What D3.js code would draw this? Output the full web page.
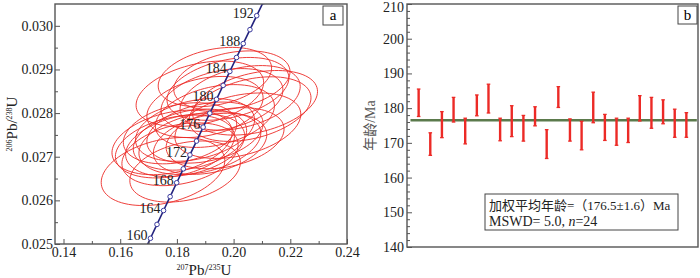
<!DOCTYPE html>
<html>
<head>
<meta charset="utf-8">
<script src="https://cdn.jsdelivr.net/npm/d3@7"></script>
<style>
body { margin: 0; background: #fff; }
svg { display: block; font-family: "Liberation Serif", "Times New Roman", "Noto Sans CJK SC", serif; }
.domain { display: none; }
.tick line { stroke: #555; }
.tick text { font-size: 14px; fill: #222; font-family: "Liberation Serif", serif; }
</style>
</head>
<body>
<svg width="700" height="278"></svg>
<script>
// concordia reference points (t in Ma)
const concAges = [158,160,162,164,166,168,170,172,174,176,178,180,182,184,186,188,190,192,194];
const concX = [0.16837,0.17067,0.17298,0.17529,0.17761,0.17993,0.18226,0.18459,0.18692,0.18926,0.19161,0.19396,0.19631,0.19867,0.20103,0.20340,0.20577,0.20815,0.21053];
const concY = [0.024813,0.025131,0.025449,0.025767,0.026085,0.026404,0.026722,0.027041,0.027359,0.027678,0.027997,0.028316,0.028635,0.028954,0.029274,0.029593,0.029912,0.030232,0.030552];
const concLabels = [160,164,168,172,176,180,184,188,192];

// ellipses: centre, 2s errors, error correlation
const ellX   = [0.1980,0.1751,0.1899,0.2076,0.1829,0.1881,0.1994,0.1783,0.2015,0.1846,0.1934,0.1829,0.1934,0.1881,0.1811,0.2023,0.1970,0.1793,0.1917,0.1959,0.2058,0.1899,0.1864,0.1811];
const ellY   = [0.028555,0.026661,0.027553,0.028236,0.027266,0.028443,0.028745,0.027328,0.027711,0.027392,0.027933,0.026661,0.028826,0.027312,0.027057,0.028349,0.027424,0.027234,0.027296,0.028300,0.028092,0.028140,0.027615,0.027537];
const ellSX  = [0.0215,0.0218,0.0205,0.0220,0.0210,0.0225,0.0205,0.0212,0.0222,0.0200,0.0210,0.0195,0.0200,0.0215,0.0205,0.0212,0.0208,0.0210,0.0200,0.0215,0.0215,0.0205,0.0210,0.0200];
const ellSY  = [0.00072,0.00078,0.00070,0.00074,0.00072,0.00075,0.00068,0.00074,0.00075,0.00070,0.00072,0.00070,0.00068,0.00072,0.00072,0.00074,0.00070,0.00072,0.00070,0.00072,0.00074,0.00070,0.00072,0.00070];
const ellRho = [0.35,0.32,0.30,0.35,0.30,0.35,0.30,0.32,0.35,0.30,0.32,0.30,0.30,0.32,0.30,0.35,0.30,0.32,0.30,0.32,0.35,0.30,0.32,0.30];

// weighted mean panel
const ageHigh = [185.5,172.9,179.0,183.1,177.1,183.8,186.9,177.1,180.7,177.9,180.4,173.8,186.2,176.9,176.2,184.6,178.2,177.1,177.1,183.6,183.1,182.4,179.7,178.7];
const ageLow  = [177.6,166.4,171.5,176.0,169.7,177.8,178.6,170.6,171.8,170.5,174.9,165.5,180.2,170.5,168.0,175.8,170.7,169.3,170.1,176.3,174.2,175.5,171.6,171.6];
const meanAge = 176.5;

const svg = d3.select('svg');
const red = '#ec2a26';

// ---------- panel a ----------
const ax = {left: 55, right: 347, top: 4, bottom: 244};
const xScale = d3.scaleLinear().domain([0.137, 0.24]).range([ax.left, ax.right]);
const yScale = d3.scaleLinear().domain([0.025, 0.0305]).range([ax.bottom, ax.top]);

svg.append('clipPath').attr('id', 'clipA')
  .append('rect').attr('x', ax.left).attr('y', ax.top)
  .attr('width', ax.right - ax.left).attr('height', ax.bottom - ax.top);

const gA = svg.append('g');
const plotA = gA.append('g').attr('clip-path', 'url(#clipA)');

// ellipses
const ellipsePath = i => {
  const pts = d3.range(0, 361, 4).map(a => {
    const t = a * Math.PI / 180;
    const dx = ellSX[i] * Math.cos(t);
    const dy = ellSY[i] * (ellRho[i] * Math.cos(t) + Math.sqrt(1 - ellRho[i] * ellRho[i]) * Math.sin(t));
    return [xScale(ellX[i] + dx), yScale(ellY[i] + dy)];
  });
  return d3.line()(pts) + 'Z';
};
plotA.selectAll('path.ell').data(d3.range(ellX.length))
  .enter().append('path')
    .attr('class', 'ell')
    .attr('d', ellipsePath)
    .attr('fill', 'none')
    .attr('stroke', red)
    .attr('stroke-width', 0.9);

// concordia
const conc = concAges.map((t, i) => ({t, x: concX[i], y: concY[i]}));
plotA.append('path')
  .attr('d', d3.line().x(d => xScale(d.x)).y(d => yScale(d.y))(conc))
  .attr('fill', 'none').attr('stroke', '#23237e').attr('stroke-width', 1.6);
plotA.selectAll('circle').data(conc)
  .enter().append('circle')
    .attr('cx', d => xScale(d.x)).attr('cy', d => yScale(d.y))
    .attr('r', 2.3).attr('fill', '#fff').attr('stroke', '#3b3b9e').attr('stroke-width', 1);
gA.selectAll('text.clab').data(conc.filter(d => concLabels.includes(d.t)))
  .enter().append('text')
    .attr('class', 'clab')
    .attr('x', d => xScale(d.x) - 3)
    .attr('y', d => yScale(d.y) + 2)
    .attr('text-anchor', 'end')
    .attr('font-size', 14).attr('fill', '#222')
    .text(d => d.t);

// axes (inward ticks)
const xTicks = [0.14, 0.16, 0.18, 0.20, 0.22, 0.24];
const xMinor = [0.15, 0.17, 0.19, 0.21, 0.23];
const yTicks = [0.025, 0.026, 0.027, 0.028, 0.029, 0.030];
const yMinor = [0.0255, 0.0265, 0.0275, 0.0285, 0.0295];

gA.append('g').attr('transform', `translate(0,${ax.bottom})`)
  .call(d3.axisBottom(xScale).tickValues(xTicks).tickFormat(d3.format('.2f')).tickSizeInner(-5).tickSizeOuter(0).tickPadding(3));
gA.append('g').attr('transform', `translate(0,${ax.bottom})`)
  .call(d3.axisBottom(xScale).tickValues(xMinor).tickFormat('').tickSizeInner(-3).tickSizeOuter(0));
gA.append('g').attr('transform', `translate(${ax.left},0)`)
  .call(d3.axisLeft(yScale).tickValues(yTicks).tickFormat(d3.format('.3f')).tickSizeInner(-5).tickSizeOuter(0).tickPadding(2));
gA.append('g').attr('transform', `translate(${ax.left},0)`)
  .call(d3.axisLeft(yScale).tickValues(yMinor).tickFormat('').tickSizeInner(-3).tickSizeOuter(0));

gA.append('rect')
  .attr('x', ax.left).attr('y', ax.top)
  .attr('width', ax.right - ax.left).attr('height', ax.bottom - ax.top)
  .attr('fill', 'none').attr('stroke', '#555').attr('stroke-width', 1.4);

// panel letter
gA.append('rect').attr('x', 323).attr('y', 6).attr('width', 20).attr('height', 19)
  .attr('fill', '#fff').attr('stroke', '#444').attr('stroke-width', 1);
gA.append('text').attr('x', 333).attr('y', 20).attr('text-anchor', 'middle')
  .attr('font-size', 15).text('a');

// axis titles
const yt = gA.append('text')
  .attr('transform', `translate(17,${(ax.top + ax.bottom) / 2}) rotate(-90)`)
  .attr('text-anchor', 'middle').attr('font-size', 15).attr('fill', '#222');
yt.append('tspan').attr('font-size', 8).attr('dy', -5).text('206');
yt.append('tspan').attr('dy', 5).text('Pb/');
yt.append('tspan').attr('font-size', 8).attr('dy', -5).text('238');
yt.append('tspan').attr('dy', 5).text('U');

const xt = gA.append('text')
  .attr('x', 204).attr('y', 275)
  .attr('text-anchor', 'middle').attr('font-size', 15).attr('fill', '#222');
xt.append('tspan').attr('font-size', 8).attr('dy', -5).text('207');
xt.append('tspan').attr('dy', 5).text('Pb/');
xt.append('tspan').attr('font-size', 8).attr('dy', -5).text('235');
xt.append('tspan').attr('dy', 5).text('U');

// ---------- panel b ----------
const bx = {left: 407, right: 698, top: 4, bottom: 247};
const iScale = d3.scaleLinear().domain([0, 25]).range([bx.left, bx.right]);
const aScale = d3.scaleLinear().domain([140, 210]).range([bx.bottom, bx.top]);
const gB = svg.append('g');

gB.append('g').attr('transform', `translate(${bx.left},0)`)
  .call(d3.axisLeft(aScale).tickValues(d3.range(140, 211, 10)).tickSizeInner(-5).tickSizeOuter(0).tickPadding(3))
  .selectAll('.tick text').filter(d => d === 210).attr('dy', '0.55em');
gB.append('g').attr('transform', `translate(${bx.left},0)`)
  .call(d3.axisLeft(aScale).tickValues(d3.range(142, 210, 2).filter(v => v % 10 !== 0)).tickFormat('').tickSizeInner(-3).tickSizeOuter(0));

gB.append('line')
  .attr('x1', iScale(0.3)).attr('x2', iScale(24.9))
  .attr('y1', aScale(meanAge)).attr('y2', aScale(meanAge))
  .attr('stroke', '#5b7a4c').attr('stroke-width', 2.6);

const bars = ageHigh.map((h, i) => ({i: i + 1, hi: h, lo: ageLow[i]}));
const barG = gB.selectAll('g.bar').data(bars).enter().append('g').attr('class', 'bar');
barG.append('line')
  .attr('x1', d => iScale(d.i)).attr('x2', d => iScale(d.i))
  .attr('y1', d => aScale(d.hi)).attr('y2', d => aScale(d.lo))
  .attr('stroke', red).attr('stroke-width', 2.4);
['hi', 'lo'].forEach(k => {
  barG.append('line')
    .attr('x1', d => iScale(d.i) - 1.8).attr('x2', d => iScale(d.i) + 1.8)
    .attr('y1', d => aScale(d[k])).attr('y2', d => aScale(d[k]))
    .attr('stroke', red).attr('stroke-width', 1.3);
});

gB.append('rect')
  .attr('x', bx.left).attr('y', bx.top)
  .attr('width', bx.right - bx.left).attr('height', bx.bottom - bx.top)
  .attr('fill', 'none').attr('stroke', '#555').attr('stroke-width', 1.4);

gB.append('rect').attr('x', 678).attr('y', 6).attr('width', 19).attr('height', 18)
  .attr('fill', '#fff').attr('stroke', '#444').attr('stroke-width', 1);
gB.append('text').attr('x', 687.5).attr('y', 20).attr('text-anchor', 'middle')
  .attr('font-size', 15).text('b');

gB.append('text')
  .attr('transform', `translate(375,${(bx.top + bx.bottom) / 2}) rotate(-90)`)
  .attr('text-anchor', 'middle').attr('font-size', 14).attr('fill', '#555')
  .text('年龄/Ma');

// result box
gB.append('rect').attr('x', 485).attr('y', 194).attr('width', 193).attr('height', 36)
  .attr('fill', '#fff').attr('stroke', '#444').attr('stroke-width', 1);
gB.append('text').attr('x', 489).attr('y', 210).attr('font-size', 13).attr('fill', '#222')
  .text('加权平均年龄=（176.5±1.6）Ma');
const t2 = gB.append('text').attr('x', 489).attr('y', 226).attr('font-size', 14).attr('fill', '#222');
t2.append('tspan').text('MSWD= 5.0, ');
t2.append('tspan').attr('font-style', 'italic').text('n');
t2.append('tspan').text('=24');
</script>
</body>
</html>
